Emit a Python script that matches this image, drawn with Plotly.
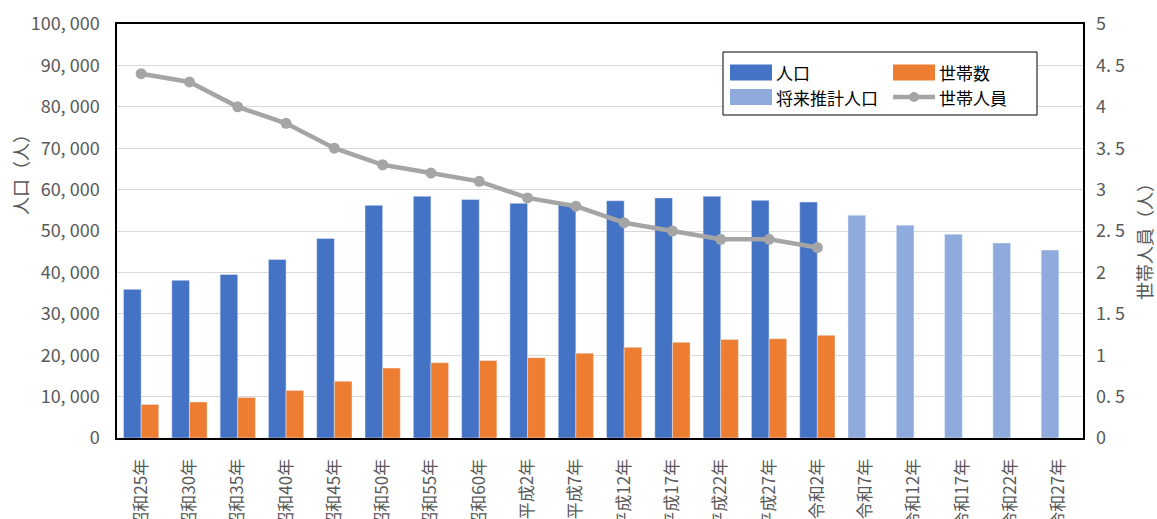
import plotly.graph_objects as go

categories = ["昭和25年", "昭和30年", "昭和35年", "昭和40年", "昭和45年", "昭和50年", "昭和55年",
              "昭和60年", "平成2年", "平成7年", "平成12年", "平成17年", "平成22年", "平成27年",
              "令和2年", "令和7年", "令和12年", "令和17年", "令和22年", "令和27年"]
population = [35900, 38100, 39500, 43100, 48200, 56200, 58400, 57600, 56700, 56600,
              57300, 58000, 58400, 57400, 57000, None, None, None, None, None]
future_population = [None] * 15 + [53800, 51400, 49200, 47100, 45400]
households = [8100, 8700, 9800, 11500, 13700, 16900, 18200, 18700, 19400, 20500,
              21900, 23100, 23800, 24000, 24800, None, None, None, None, None]
persons_per_household = [4.4, 4.3, 4.0, 3.8, 3.5, 3.3, 3.2, 3.1, 2.9, 2.8,
                         2.6, 2.5, 2.4, 2.4, 2.3, None, None, None, None, None]

left_ticks = [0, 10000, 20000, 30000, 40000, 50000, 60000, 70000, 80000, 90000, 100000]
left_ticktext = ["0", "10, 000", "20, 000", "30, 000", "40, 000", "50, 000", "60, 000",
                 "70, 000", "80, 000", "90, 000", "100, 000"]
right_ticks = [0, 0.5, 1, 1.5, 2, 2.5, 3, 3.5, 4, 4.5, 5]
right_ticktext = ["0", "0. 5", "1", "1. 5", "2", "2. 5", "3", "3. 5", "4", "4. 5", "5"]

BLUE = "#4472C4"
ORANGE = "#ED7D31"
LIGHT = "#8FAADC"
GRAY = "#A5A5A5"
TXT = "#595959"
FONT = "Noto Sans CJK JP"

fig = go.Figure()
fig.add_trace(go.Bar(x=categories, y=population, name="人口", marker_color=BLUE,
                     offsetgroup="a", showlegend=False))
fig.add_trace(go.Bar(x=categories, y=households, name="世帯数", marker_color=ORANGE,
                     offsetgroup="b", showlegend=False))
fig.add_trace(go.Bar(x=categories, y=future_population, name="将来推計人口", marker_color=LIGHT,
                     offsetgroup="a", showlegend=False))
fig.add_trace(go.Scatter(x=categories, y=persons_per_household, name="世帯人員", yaxis="y2",
                         mode="lines+markers", line=dict(color=GRAY, width=4.5),
                         marker=dict(color=GRAY, size=11), showlegend=False))

L, R, T, B = 117, 74, 24, 81
W, H = 1157, 519
pw, ph = W - L - R, H - T - B


def px(x):
    return (x - L) / pw


def py(y):
    return (H - B - y) / ph


shapes = []
annotations = []
# legend box
shapes.append(dict(type="rect", xref="paper", yref="paper", x0=px(723), x1=px(1037),
                   y0=py(115), y1=py(52), line=dict(color="black", width=1), fillcolor="white",
                   layer="above"))
legend_items = [
    ("rect", BLUE, "人口", 730, 72.5),
    ("rect", ORANGE, "世帯数", 893, 72.5),
    ("rect", LIGHT, "将来推計人口", 730, 97),
    ("line", GRAY, "世帯人員", 893, 97),
]
for kind, col, label, x0, yc in legend_items:
    if kind == "rect":
        shapes.append(dict(type="rect", xref="paper", yref="paper", x0=px(x0), x1=px(x0 + 42),
                           y0=py(yc + 8), y1=py(yc - 8), line=dict(width=0), fillcolor=col,
                           layer="above"))
    else:
        shapes.append(dict(type="line", xref="paper", yref="paper", x0=px(x0), x1=px(x0 + 42),
                           y0=py(yc), y1=py(yc), line=dict(color=col, width=4.5), layer="above"))
        shapes.append(dict(type="circle", xref="paper", yref="paper", x0=px(x0 + 16), x1=px(x0 + 26),
                           y0=py(yc + 5), y1=py(yc - 5), line=dict(width=0), fillcolor=col,
                           layer="above"))
    annotations.append(dict(text=label, xref="paper", yref="paper", x=px(x0 + 44), y=py(yc),
                            xanchor="left", yanchor="middle", showarrow=False,
                            font=dict(family=FONT, size=17, color="black")))

annotations.append(dict(text="人口（人）", xref="paper", yref="paper", x=px(20), y=py(170),
                        xanchor="center", yanchor="middle", textangle=-90, showarrow=False,
                        font=dict(family=FONT, size=18, color=TXT)))
annotations.append(dict(text="世帯人員（人）", xref="paper", yref="paper", x=px(1144), y=py(237),
                        xanchor="center", yanchor="middle", textangle=-90, showarrow=False,
                        font=dict(family=FONT, size=18, color=TXT)))

fig.update_layout(
    width=W, height=H,
    margin=dict(l=L, r=R, t=T, b=B, pad=0, autoexpand=False),
    paper_bgcolor="white", plot_bgcolor="white",
    barmode="group", bargap=0.27, bargroupgap=0,
    font=dict(family=FONT, size=17, color=TXT),
    xaxis=dict(type="category", range=[-0.5, 19.5], tickangle=-90, showgrid=False, ticks="",
               showline=True, linecolor="black", linewidth=2, mirror=True, automargin=False,
               tickfont=dict(family=FONT, size=17, color=TXT), ticklabelstandoff=12),
    yaxis=dict(range=[0, 100000], tickvals=left_ticks, ticktext=left_ticktext,
               showgrid=True, gridcolor="#D9D9D9", gridwidth=1, zeroline=False, automargin=False,
               showline=True, linecolor="black", linewidth=1.5, mirror=True, ticks="",
               tickfont=dict(family=FONT, size=18, color=TXT), ticklabelstandoff=12),
    yaxis2=dict(range=[0, 5], tickvals=right_ticks, ticktext=right_ticktext, overlaying="y",
                side="right", showgrid=False, zeroline=False, ticks="", automargin=False,
                tickfont=dict(family=FONT, size=18, color=TXT), ticklabelstandoff=12),
    shapes=shapes, annotations=annotations,
)

fig.write_html("out.html")
